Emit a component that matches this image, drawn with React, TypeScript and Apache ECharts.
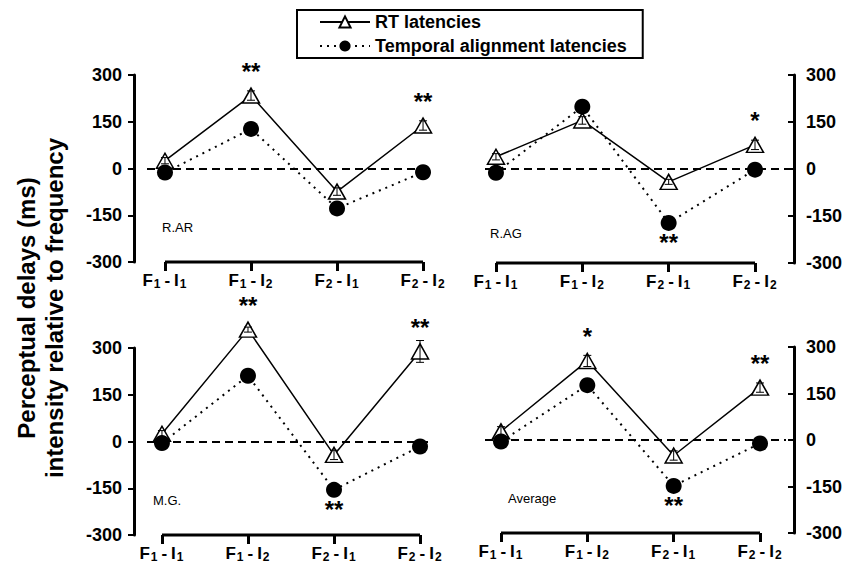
import React, { useEffect, useRef } from 'react';
import * as echarts from 'echarts';

// ---------- data ----------
const categories = ['F1 - I1', 'F1 - I2', 'F2 - I1', 'F2 - I2'];
const yTicks = [-300, -150, 0, 150, 300];
const seriesNames = ['RT latencies', 'Temporal alignment latencies'];
const panelNames = ['R.AR', 'R.AG', 'M.G.', 'Average'];

const rtRAR = [25, 234, -74, 138];
const taRAR = [-13, 127, -128, -12];
const errRAR = [10, 15, 12, 15];
const rtStarsRAR = ['', '**', '', '**'];
const taStarsRAR = ['', '', '', ''];

const rtRAG = [39, 155, -41, 77];
const taRAG = [-12, 199, -172, -2];
const errRAG = [10, 12, 8, 15];
const rtStarsRAG = ['', '', '', '*'];
const taStarsRAG = ['', '', '**', ''];

const rtMG = [25, 359, -43, 289];
const taMG = [-5, 211, -155, -16];
const errMG = [10, 8, 15, 35];
const rtStarsMG = ['', '**', '', '**'];
const taStarsMG = ['', '', '**', ''];

const rtAvg = [28, 255, -50, 169];
const taAvg = [-5, 177, -148, -11];
const errAvg = [15, 18, 15, 15];
const rtStarsAvg = ['', '*', '', '**'];
const taStarsAvg = ['', '', '**', ''];

const panels = [
  { name: panelNames[0], rt: rtRAR, ta: taRAR, err: errRAR, rtStars: rtStarsRAR, taStars: taStarsRAR },
  { name: panelNames[1], rt: rtRAG, ta: taRAG, err: errRAG, rtStars: rtStarsRAG, taStars: taStarsRAG },
  { name: panelNames[2], rt: rtMG, ta: taMG, err: errMG, rtStars: rtStarsMG, taStars: taStarsMG },
  { name: panelNames[3], rt: rtAvg, ta: taAvg, err: errAvg, rtStars: rtStarsAvg, taStars: taStarsAvg },
];

// ---------- layout / style ----------
const FONT = "'Liberation Sans', Arial, Helvetica, sans-serif";
const layouts = [
  { left: 147, top: 75, width: 283, height: 187, xMin: -0.209, xMax: 3.081, side: 'left', offset: 13, lx: 162, ly: 227 },
  { left: 485, top: 75, width: 303, height: 188, xMin: -0.127, xMax: 3.382, side: 'right', offset: 6, lx: 490, ly: 233 },
  { left: 147, top: 348, width: 283, height: 187, xMin: -0.174, xMax: 3.116, side: 'left', offset: 13, lx: 153, ly: 500 },
  { left: 485, top: 347, width: 301, height: 186, xMin: -0.185, xMax: 3.301, side: 'right', offset: 8, lx: 508, ly: 498 },
];

function catLabel(v: number) {
  const c = categories[Math.round(v)] || '';
  const m = c.match(/F(\d)\s*-\s*I(\d)/);
  if (!m) return c;
  return `{b|F}{s|${m[1]}}{d|-}{b|I}{s|${m[2]}}`;
}

function buildOption() {
  const catIdx = categories.map((_, i) => i);
  const yMin = yTicks[0];
  const yMax = yTicks[yTicks.length - 1];
  const grids: any[] = [];
  const xAxes: any[] = [];
  const yAxes: any[] = [];
  const series: any[] = [];
  const graphics: any[] = [];

  layouts.forEach((l, i) => {
    const p = panels[i];
    grids.push({ left: l.left, top: l.top, width: l.width, height: l.height, containLabel: false, outerBoundsMode: 'none' });
    xAxes.push({
      type: 'value', gridIndex: i, min: l.xMin, max: l.xMax, position: 'bottom',
      axisLine: { show: false, onZero: false }, splitLine: { show: false },
      axisTick: { show: true, customValues: catIdx, length: 9, lineStyle: { color: '#000', width: 3 } },
      axisLabel: {
        show: true, customValues: catIdx, margin: 8, formatter: catLabel, color: '#000',
        rich: {
          b: { fontFamily: FONT, fontWeight: 'bold', fontSize: 17, color: '#000', lineHeight: 20 },
          d: { fontFamily: FONT, fontWeight: 'bold', fontSize: 17, color: '#000', lineHeight: 20, padding: [0, 4, 0, 3] },
          s: { fontFamily: FONT, fontWeight: 'bold', fontSize: 12, color: '#000', lineHeight: 12, verticalAlign: 'bottom', padding: [8, 1, 0, 1] },
        },
      },
    });
    yAxes.push({
      type: 'value', gridIndex: i, min: yMin, max: yMax, interval: 150,
      position: l.side, offset: l.offset,
      axisLine: { show: true, onZero: false, lineStyle: { color: '#000', width: 3 } },
      axisTick: { show: true, inside: l.side === 'right', length: 6, lineStyle: { color: '#000', width: 2 } },
      axisLabel: { fontFamily: FONT, fontWeight: 'bold', fontSize: 18, color: '#000', margin: 12 },
      splitLine: { show: false },
    });
    // x bracket
    series.push({
      type: 'line', xAxisIndex: i, yAxisIndex: i, silent: true, clip: false, symbol: 'none',
      data: [[catIdx[0], yMin], [catIdx[catIdx.length - 1], yMin]],
      lineStyle: { color: '#000', width: 3 }, z: 1,
    });
    // RT series
    series.push({
      name: seriesNames[0], type: 'line', xAxisIndex: i, yAxisIndex: i, clip: false,
      data: p.rt.map((v, k) => [k, v]),
      symbol: 'triangle', symbolSize: [17, 15],
      itemStyle: { color: '#fff', borderColor: '#000', borderWidth: 1.5 },
      lineStyle: { color: '#000', width: 1.5, type: 'solid' },
      label: {
        show: true, position: 'top', distance: 4,
        formatter: (q: any) => p.rtStars[q.dataIndex] || '',
        fontFamily: FONT, fontWeight: 'bold', fontSize: 24, color: '#000',
      },
      z: 3,
      markLine: {
        silent: true, symbol: ['none', 'none'], label: { show: false },
        lineStyle: { color: '#000', width: 2, type: [8, 5] },
        data: [{ yAxis: 0 }], z: 1,
      },
    });
    // error bars
    series.push({
      type: 'custom', xAxisIndex: i, yAxisIndex: i, silent: true, z: 4, clip: false,
      data: p.rt.map((v, k) => [k, v, p.err[k]]),
      encode: { x: 0, y: 1 },
      renderItem: (params: any, api: any) => {
        const x = api.value(0), y = api.value(1), e = api.value(2);
        const t = api.coord([x, y + e]);
        const b = api.coord([x, y - e]);
        const hw = 4;
        const st = { stroke: '#000', lineWidth: 1 };
        return {
          type: 'group', children: [
            { type: 'line', shape: { x1: t[0], y1: t[1], x2: b[0], y2: b[1] }, style: st },
            { type: 'line', shape: { x1: t[0] - hw, y1: t[1], x2: t[0] + hw, y2: t[1] }, style: st },
            { type: 'line', shape: { x1: b[0] - hw, y1: b[1], x2: b[0] + hw, y2: b[1] }, style: st },
          ],
        };
      },
    });
    // temporal alignment series
    series.push({
      name: seriesNames[1], type: 'line', xAxisIndex: i, yAxisIndex: i, clip: false,
      data: p.ta.map((v, k) => [k, v]),
      symbol: 'circle', symbolSize: 16,
      itemStyle: { color: '#000' },
      lineStyle: { color: '#000', width: 2, type: [2, 5] },
      label: {
        show: true, position: 'bottom', distance: 0,
        formatter: (q: any) => p.taStars[q.dataIndex] || '',
        fontFamily: FONT, fontWeight: 'bold', fontSize: 24, color: '#000',
      },
      z: 5,
    });
    graphics.push({
      type: 'text', x: l.lx, y: l.ly,
      style: { text: p.name, font: `13px ${FONT}`, fill: '#000', align: 'left', verticalAlign: 'middle' },
    });
  });

  graphics.push({
    type: 'text', x: 40, y: 308, rotation: Math.PI / 2,
    style: {
      text: 'Perceptual delays (ms)\nintensity relative to frequency',
      font: `bold 24px ${FONT}`, fill: '#000', align: 'center', verticalAlign: 'middle', lineHeight: 28,
    },
  });

  return {
    animation: false,
    backgroundColor: '#fff',
    grid: grids,
    xAxis: xAxes,
    yAxis: yAxes,
    series,
    graphic: graphics,
    legend: {
      data: seriesNames, orient: 'vertical', left: 297, top: 10,
      borderColor: '#000', borderWidth: 2, borderRadius: 0,
      padding: [3, 16, 3, 22], itemGap: 6, itemWidth: 50, itemHeight: 14,
      textStyle: { fontFamily: FONT, fontWeight: 'bold', fontSize: 18, color: '#000' },
      selectedMode: false,
    },
  };
}

export default function App() {
  const ref = useRef<HTMLDivElement>(null);
  useEffect(() => {
    const chart = echarts.init(ref.current!, null, { renderer: 'svg' });
    chart.setOption(buildOption() as any);
    return () => chart.dispose();
  }, []);
  return <div ref={ref} style={{ position: 'fixed', left: 0, top: 0, width: 849, height: 569, background: '#fff' }} />;
}
